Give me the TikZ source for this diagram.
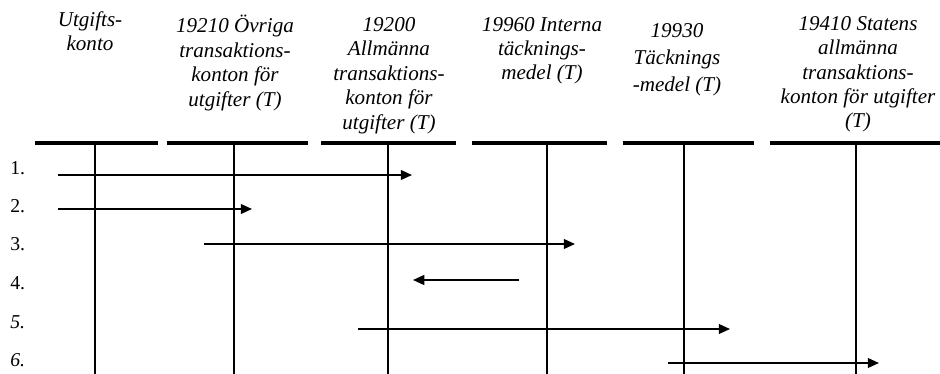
\documentclass[tikz,border=0pt]{standalone}
\usepackage{fontspec}
\setmainfont{Liberation Serif}
\usetikzlibrary{arrows.meta}
\tikzstyle{header} = [align=center,font=\fontsize{15}{17.4}\selectfont\itshape,inner sep=0,anchor=base]
\tikzstyle{rownum} = [font=\fontsize{14}{16}\selectfont,inner sep=0,anchor=base west]
\tikzstyle{bar} = [line width=2.8pt]
\tikzstyle{lifeline} = [line width=1.3pt]
\tikzstyle{arrow} = [line width=1.2pt,-{Triangle[length=8pt,width=7pt]}]

\begin{document}
\begin{tikzpicture}[x=0.025cm,y=-0.025cm]
    \useasboundingbox (0,0) rectangle (940,374);

    % account headings (placed at the baseline of their last line)
    \node [header] (h1) at (90,51) {Utgifts-\\konto};
    \node [header] (h2) at (235,106) {19210 Övriga\\transaktions-\\konton för\\utgifter (T)};
    \node [header] (h3) at (389,129) {19200\\Allmänna\\transaktions-\\konton för\\utgifter (T)};
    \node [header] (h4) at (542,80) {19960 Interna\\täcknings-\\medel (T)};
    \node [header,font=\fontsize{15}{19.5}\selectfont\itshape] (h5) at (677,92) {19930\\Täcknings\\-medel (T)};
    \node [header] (h6) at (858,128) {19410 Statens\\allmänna\\transaktions-\\konton för utgifter\\(T)};

    % T-account bars
    \draw [bar] (35,143) -- (158,143);
    \draw [bar] (167,143) -- (308,143);
    \draw [bar] (321,143) -- (456,143);
    \draw [bar] (472,143) -- (607,143);
    \draw [bar] (623,143) -- (754,143);
    \draw [bar] (770,143) -- (940,143);

    \coordinate (t1) at (95,143);  \coordinate (b1) at (95,374);
    \coordinate (t2) at (234,143); \coordinate (b2) at (234,374);
    \coordinate (t3) at (388,143); \coordinate (b3) at (388,374);
    \coordinate (t4) at (547,143); \coordinate (b4) at (547,374);
    \coordinate (t5) at (684,143); \coordinate (b5) at (684,374);
    \coordinate (t6) at (856,143); \coordinate (b6) at (856,374);
    \draw [lifeline] (t1) -- (b1);
    \draw [lifeline] (t2) -- (b2);
    \draw [lifeline] (t3) -- (b3);
    \draw [lifeline] (t4) -- (b4);
    \draw [lifeline] (t5) -- (b5);
    \draw [lifeline] (t6) -- (b6);

    % transactions
    \node [rownum] (r1) at (10,174) {1.};
    \node [rownum] (r2) at (10,212) {2.};
    \node [rownum] (r3) at (10,250) {3.};
    \node [rownum] (r4) at (10,289) {4.};
    \node [rownum,font=\fontsize{14}{16}\selectfont\itshape] (r5) at (10,328) {5.};
    \node [rownum,font=\fontsize{14}{16}\selectfont\itshape] (r6) at (10,366) {6.};

    \coordinate (s1) at (58,175);  \coordinate (e1) at (412,175);
    \coordinate (s2) at (58,209);  \coordinate (e2) at (252,209);
    \coordinate (s3) at (204,244); \coordinate (e3) at (575,244);
    \coordinate (s4) at (519,280); \coordinate (e4) at (413,280);
    \coordinate (s5) at (358,329); \coordinate (e5) at (730,329);
    \coordinate (s6) at (668,363); \coordinate (e6) at (879,363);
    \draw [arrow] (s1) -- (e1);
    \draw [arrow] (s2) -- (e2);
    \draw [arrow] (s3) -- (e3);
    \draw [arrow] (s4) -- (e4);
    \draw [arrow] (s5) -- (e5);
    \draw [arrow] (s6) -- (e6);
\end{tikzpicture}
\end{document}
